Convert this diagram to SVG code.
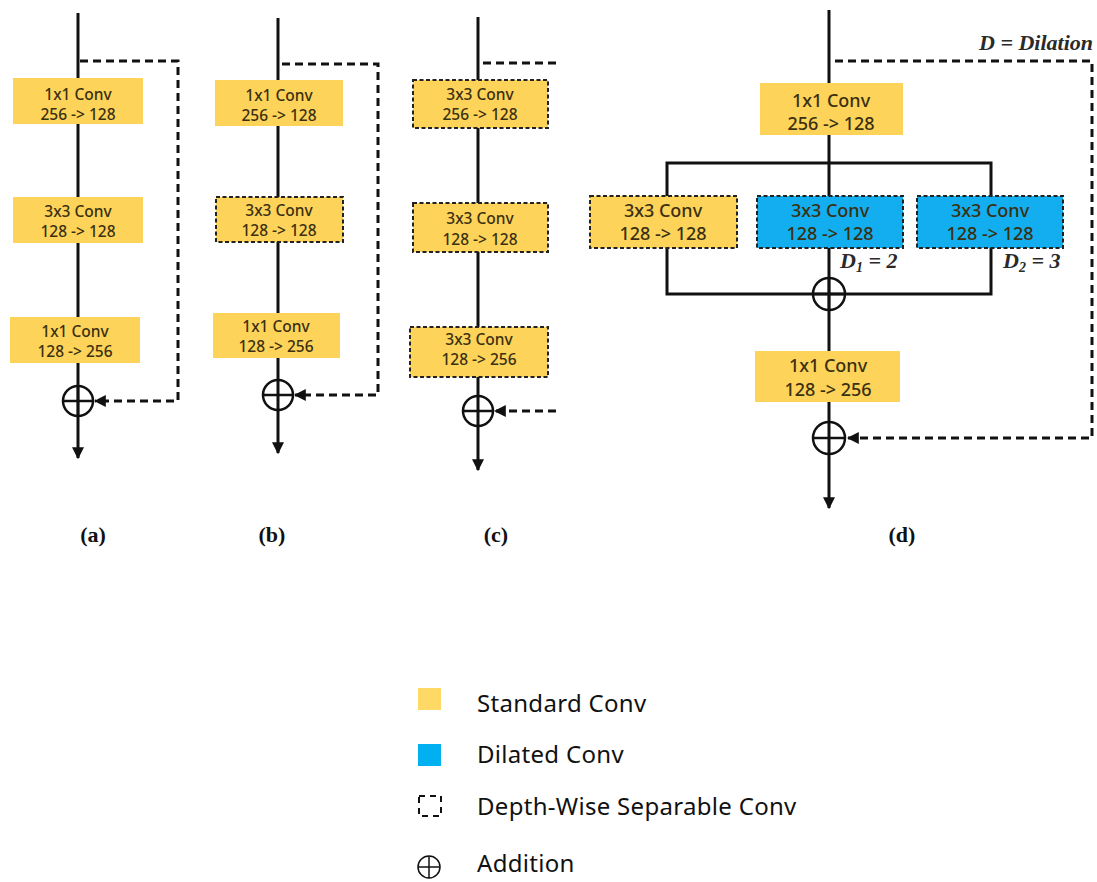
<svg xmlns="http://www.w3.org/2000/svg" width="1097" height="882" viewBox="0 0 1097 882">
<defs>
<style>
.ln{stroke:#111;stroke-width:3;fill:none}
.dl{stroke:#111;stroke-width:3;fill:none;stroke-dasharray:8 5}
.std{fill:#FDD35A}
.dil{fill:#12AEEF}
.dw{stroke:#222;stroke-width:2;stroke-dasharray:4 2.5}
.bt{font-family:"Noto Sans","Open Sans",sans-serif;font-size:15.5px;fill:#3a3010;text-anchor:middle;font-weight:500}
.bt2{font-family:"Noto Sans","Open Sans",sans-serif;font-size:18px;fill:#3a3010;text-anchor:middle;font-weight:500}
.lab{font-family:"Liberation Serif",serif;font-size:22px;font-weight:bold;fill:#111;text-anchor:middle}
.mi{font-family:"Liberation Serif",serif;font-style:italic;font-weight:bold;font-size:22px;fill:#2a2a2a}
.leg{font-family:"Noto Sans","Open Sans",sans-serif;font-size:24px;fill:#111;letter-spacing:0.3px}
.add{stroke:#111;stroke-width:2.5;fill:none}
</style>
<marker id="ah" viewBox="0 0 10 10" refX="9" refY="5" markerWidth="4" markerHeight="4" orient="auto"><path d="M0,0 L10,5 L0,10 z" fill="#111"/></marker>
</defs>

<g id="connectors">
<!-- panel a -->
<line class="ln" x1="78" y1="13" x2="78" y2="458" marker-end="url(#ah)"/>
<path class="dl" d="M80,61 H178 V401 H95" marker-end="url(#ah)"/>
<!-- panel b -->
<line class="ln" x1="278" y1="18" x2="278" y2="453" marker-end="url(#ah)"/>
<path class="dl" d="M282,64 H378 V395 H295" marker-end="url(#ah)"/>
<!-- panel c -->
<line class="ln" x1="478" y1="17" x2="478" y2="470" marker-end="url(#ah)"/>
<path class="dl" d="M483,63 H556"/>
<path class="dl" d="M556,411 H495" marker-end="url(#ah)"/>
<!-- panel d -->
<line class="ln" x1="829" y1="10" x2="829" y2="508" marker-end="url(#ah)"/>
<rect class="ln" x="667" y="163" width="324" height="131"/>
<path class="dl" d="M835,61 H1092 V438 H848" marker-end="url(#ah)"/>
</g>

<g id="panel-a">
<g id="a-conv1"><rect class="std" x="13" y="78" width="130" height="46"/><text class="bt" x="78" y="100">1x1 Conv</text><text class="bt" x="78" y="120">256 -&gt; 128</text></g>
<g id="a-conv2"><rect class="std" x="13" y="197" width="130" height="46"/><text class="bt" x="78" y="217">3x3 Conv</text><text class="bt" x="78" y="237">128 -&gt; 128</text></g>
<g id="a-conv3"><rect class="std" x="10" y="317" width="130" height="46"/><text class="bt" x="75" y="337">1x1 Conv</text><text class="bt" x="75" y="357">128 -&gt; 256</text></g>
<g id="a-add"><circle class="add" cx="78" cy="401" r="15" fill="#fff"/><line class="add" x1="63" y1="401" x2="93" y2="401"/><line class="add" x1="78" y1="386" x2="78" y2="416"/></g>
<text class="lab" x="93" y="542">(a)</text>
</g>

<g id="panel-b">
<g id="b-conv1"><rect class="std" x="215" y="80" width="128" height="46"/><text class="bt" x="279" y="101">1x1 Conv</text><text class="bt" x="279" y="121">256 -&gt; 128</text></g>
<g id="b-conv2"><rect class="std dw" x="216" y="197" width="127" height="45"/><text class="bt" x="279" y="216">3x3 Conv</text><text class="bt" x="279" y="236">128 -&gt; 128</text></g>
<g id="b-conv3"><rect class="std" x="213" y="313" width="127" height="45"/><text class="bt" x="276" y="332">1x1 Conv</text><text class="bt" x="276" y="352">128 -&gt; 256</text></g>
<g id="b-add"><circle class="add" cx="278" cy="395" r="15"/><line class="add" x1="263" y1="395" x2="293" y2="395"/></g>
<text class="lab" x="272" y="542">(b)</text>
</g>

<g id="panel-c">
<g id="c-conv1"><rect class="std dw" x="413" y="80" width="135" height="48"/><text class="bt" x="480" y="100">3x3 Conv</text><text class="bt" x="480" y="120">256 -&gt; 128</text></g>
<g id="c-conv2"><rect class="std dw" x="413" y="203" width="135" height="49"/><text class="bt" x="480" y="224">3x3 Conv</text><text class="bt" x="480" y="245">128 -&gt; 128</text></g>
<g id="c-conv3"><rect class="std dw" x="410" y="327" width="138" height="50"/><text class="bt" x="479" y="345">3x3 Conv</text><text class="bt" x="479" y="365">128 -&gt; 256</text></g>
<g id="c-add"><circle class="add" cx="478" cy="411" r="15"/><line class="add" x1="463" y1="411" x2="493" y2="411"/></g>
<text class="lab" x="496" y="542">(c)</text>
</g>

<g id="panel-d">
<text class="mi" x="1093" y="50" text-anchor="end">D = Dilation</text>
<g id="d-conv1"><rect class="std" x="760" y="83" width="143" height="52"/><text class="bt2" x="831" y="107">1x1 Conv</text><text class="bt2" x="831" y="130">256 -&gt; 128</text></g>
<g id="d-conv-std"><rect class="std dw" x="590" y="196" width="147" height="52"/><text class="bt2" x="663" y="217">3x3 Conv</text><text class="bt2" x="663" y="240">128 -&gt; 128</text></g>
<g id="d-conv-dil1"><rect class="dil dw" x="757" y="196" width="146" height="52"/><text class="bt2" x="830" y="217">3x3 Conv</text><text class="bt2" x="830" y="240">128 -&gt; 128</text></g>
<g id="d-conv-dil2"><rect class="dil dw" x="917" y="196" width="146" height="52"/><text class="bt2" x="990" y="217">3x3 Conv</text><text class="bt2" x="990" y="240">128 -&gt; 128</text></g>
<text class="mi" x="840" y="268">D<tspan font-size="14" dy="4">1</tspan><tspan dy="-4"> = 2</tspan></text>
<text class="mi" x="1003" y="268">D<tspan font-size="14" dy="4">2</tspan><tspan dy="-4"> = 3</tspan></text>
<g id="d-add1"><circle class="add" cx="829" cy="294" r="16" fill="#fff"/><line class="add" x1="813" y1="294" x2="845" y2="294"/><line class="add" x1="829" y1="278" x2="829" y2="310"/></g>
<g id="d-conv2"><rect class="std" x="755" y="351" width="145" height="51"/><text class="bt2" x="828" y="372">1x1 Conv</text><text class="bt2" x="828" y="396">128 -&gt; 256</text></g>
<g id="d-add2"><circle class="add" cx="829" cy="438" r="16"/><line class="add" x1="813" y1="438" x2="845" y2="438"/></g>
<text class="lab" x="902" y="542">(d)</text>
</g>

<g id="legend">
<rect x="418" y="688" width="23" height="22" fill="#FFD966"/>
<text class="leg" x="477" y="712">Standard Conv</text>
<rect x="418" y="744" width="23" height="22" fill="#00B0F0"/>
<text class="leg" x="477" y="763">Dilated Conv</text>
<rect x="419" y="796" width="22" height="20" fill="none" stroke="#111" stroke-width="2" stroke-dasharray="6 5"/>
<text class="leg" x="477" y="815">Depth-Wise Separable Conv</text>
<circle cx="429" cy="867" r="11" fill="none" stroke="#111" stroke-width="1.5"/>
<line x1="418" y1="867" x2="440" y2="867" stroke="#111" stroke-width="1.5"/>
<line x1="429" y1="856" x2="429" y2="878" stroke="#111" stroke-width="1.5"/>
<text class="leg" x="477" y="872">Addition</text>
</g>
</svg>
